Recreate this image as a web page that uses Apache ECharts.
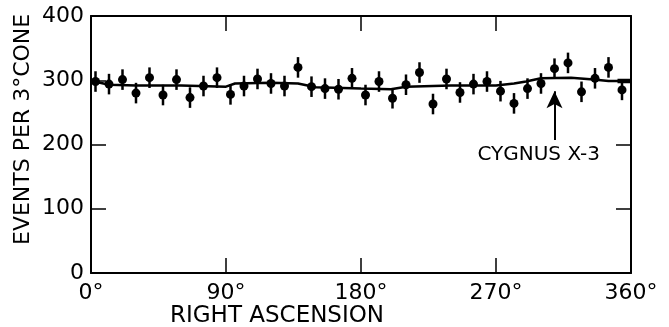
<!DOCTYPE html>
<html>
<head>
<meta charset="utf-8">
<script src="https://cdn.jsdelivr.net/npm/echarts@6/dist/echarts.min.js"></script>
<style>
html, body { margin: 0; padding: 0; background: #fff; }
#chart { width: 669px; height: 327px; }
</style>
</head>
<body>
<div id="chart"></div>
<script>
// right ascension of each bin (deg)
var ra = [3, 12, 21, 30, 39, 48, 57, 66, 75, 84, 93, 102, 111, 120, 129, 138, 147, 156, 165, 174,
	183, 192, 201, 210, 219, 228, 237, 246, 255, 264, 273, 282, 291, 300, 309, 318, 327, 336, 345, 354];
// events per 3 deg cone
var counts = [298, 294, 301, 280, 304, 277, 301, 273, 291, 304, 278, 291, 302, 295, 291, 320, 290, 287, 286, 303,
	277, 298, 272, 293, 312, 263, 302, 281, 294, 298, 283, 264, 287, 295, 318, 327, 282, 303, 320, 285];
var errors = [16, 16, 16, 16, 16, 16, 16, 16, 16, 16, 16, 16, 16, 16, 16, 16, 16, 16, 16, 16,
	16, 16, 16, 16, 16, 16, 16, 16, 16, 16, 16, 16, 16, 16, 16, 16, 16, 16, 16, 16];
// expected background curve
var bgRa = [0, 6, 12, 30, 60, 90, 96, 120, 138, 150, 180, 200, 210, 240, 270, 282, 290, 300, 320, 335, 345, 360];
var bgVal = [297, 296, 293, 292, 292, 290, 295, 296, 295, 289, 287, 286, 290, 292, 292, 295, 298, 303, 304, 301, 299, 299];
var xTicks = [0, 90, 180, 270, 360];
var yTicks = [0, 100, 200, 300, 400];
var cygnusRa = 309;

var FONT = 'DejaVu Sans';

var pts = [], bars = [], bg = [];
for (var i = 0; i < ra.length; i++) {
	pts.push([ra[i], counts[i]]);
	bars.push([ra[i], counts[i], errors[i]]);
}
for (var j = 0; j < bgRa.length; j++) bg.push([bgRa[j], bgVal[j]]);

var dom = document.getElementById('chart');
var myChart = echarts.init(dom);
var axisLine = { show: true, onZero: false, lineStyle: { color: '#000', width: 2 } };
var tick = { show: true, inside: true, length: 15, lineStyle: { color: '#000', width: 1.5 } };
var option = {
	animation: false,
	backgroundColor: '#fff',
	textStyle: { fontFamily: FONT },
	grid: { left: 91, right: 38, top: 16, bottom: 54 },
	graphic: [{
		type: 'text', rotation: Math.PI / 2,
		style: { text: 'EVENTS PER 3°CONE', font: '22px ' + FONT, fill: '#000' },
		x: 12, y: 245
	}, {
		type: 'text', x: 170, y: 305,
		style: { text: 'RIGHT ASCENSION', font: '23px ' + FONT, fill: '#000' }
	}],
	xAxis: [{
		type: 'value', position: 'bottom', min: xTicks[0], max: xTicks[4], interval: 90,
		axisLine: axisLine, axisTick: tick, splitLine: { show: false },
		axisLabel: { formatter: '{value}°', fontSize: 22, color: '#000', margin: 9, fontFamily: FONT }
	}, {
		type: 'value', position: 'top', min: xTicks[0], max: xTicks[4], interval: 90,
		axisLine: axisLine, axisTick: tick, splitLine: { show: false }, axisLabel: { show: false }
	}],
	yAxis: [{
		type: 'value', position: 'left', min: yTicks[0], max: yTicks[4], interval: 100,
		axisLine: axisLine, axisTick: tick, splitLine: { show: false },
		axisLabel: { fontSize: 22, color: '#000', margin: 7, fontFamily: FONT }
	}, {
		type: 'value', position: 'right', min: yTicks[0], max: yTicks[4], interval: 100,
		axisLine: axisLine, axisTick: tick, splitLine: { show: false }, axisLabel: { show: false }
	}],
	series: [{
		type: 'line', data: bg, showSymbol: false, symbol: 'none',
		lineStyle: { color: '#000', width: 2.5 }, z: 2,
		markLine: {
			silent: true, symbol: ['none', 'arrow'], symbolSize: [12, 17],
			lineStyle: { color: '#000', width: 2, type: 'solid' }, label: { show: false },
			data: [[{ coord: [cygnusRa, 207] }, { coord: [cygnusRa, 283] }]]
		},
		markPoint: {
			silent: true, symbol: 'rect', symbolSize: 0,
			label: { show: true, formatter: 'CYGNUS X-3', color: '#000', fontSize: 20, fontFamily: FONT, position: 'inside' },
			data: [{ coord: [298.5, 184] }]
		}
	}, {
		type: 'line', data: [[351, 296.5], [360, 296.5]], symbol: 'none',
		lineStyle: { color: '#000', width: 1.5 }
	}, {
		type: 'line', data: [[351, 301], [360, 301]], symbol: 'none',
		lineStyle: { color: '#000', width: 1.5 }
	}, {
		type: 'custom', data: bars, z: 3,
		renderItem: function(params, api) {
			var p1 = api.coord([api.value(0), api.value(1) - api.value(2)]);
			var p2 = api.coord([api.value(0), api.value(1) + api.value(2)]);
			return { type: 'line', shape: { x1: p1[0], y1: p1[1], x2: p2[0], y2: p2[1] }, style: { stroke: '#000', lineWidth: 2.5 } };
		}
	}, {
		type: 'scatter', data: pts, symbol: 'circle', symbolSize: 9, z: 4,
		itemStyle: { color: '#000', opacity: 1 }
	}]
};
myChart.setOption(option, true);
</script>
</body>
</html>
